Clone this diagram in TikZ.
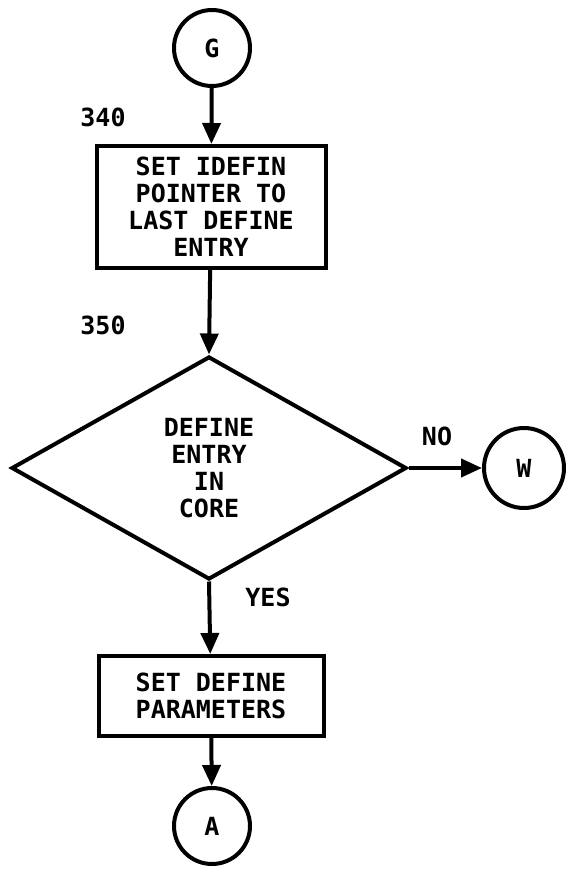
\documentclass[tikz,border=0pt]{standalone}
\usepackage{fontspec}
\setmainfont{DejaVu Sans Mono}
\usetikzlibrary{shapes.geometric,arrows.meta}
\tikzset{
  lbl/.style={font=\fontsize{25}{27}\selectfont\bfseries, align=center, inner sep=0pt},
  procbox/.style={draw, line width=4pt, rectangle, lbl},
  conn/.style={draw, line width=4pt, circle, minimum size=76pt, lbl},
  decide/.style={draw, line width=4pt, diamond, lbl},
  flow/.style={line width=4pt, -{Triangle[length=21pt,width=18pt]}},
  tag/.style={lbl}
}
\begin{document}
\begin{tikzpicture}[x=1pt,y=-1pt]
\useasboundingbox (0,0) rectangle (568,885);
\node[conn] (G) at (212,48) {G};
\node[tag] (t340) at (103,117) {340};
\node[procbox, minimum width=229pt, minimum height=122pt] (r1) at (211,207)
  {SET IDEFIN\\POINTER TO\\LAST DEFINE\\ENTRY};
\node[tag] (t350) at (103,325) {350};
\node[decide, minimum width=395pt, minimum height=223pt, inner sep=0pt] (d) at (209,468)
  {DEFINE\\ENTRY\\IN\\CORE};
\node[tag] (tno) at (437,436) {NO};
\node[conn, minimum size=80pt] (W) at (524,468) {W};
\node[tag] (tyes) at (268,597) {YES};
\node[procbox, minimum width=225pt, minimum height=80pt] (r2) at (211,696)
  {SET DEFINE\\PARAMETERS};
\node[conn] (A) at (212,826) {A};
\draw[flow] (G) -- (r1);
\draw[flow] (r1) -- (d.north);
\draw[flow] (d.east) -- (W);
\draw[flow] (d.south) -- (r2);
\draw[flow] (r2) -- (A);
\end{tikzpicture}
\end{document}
